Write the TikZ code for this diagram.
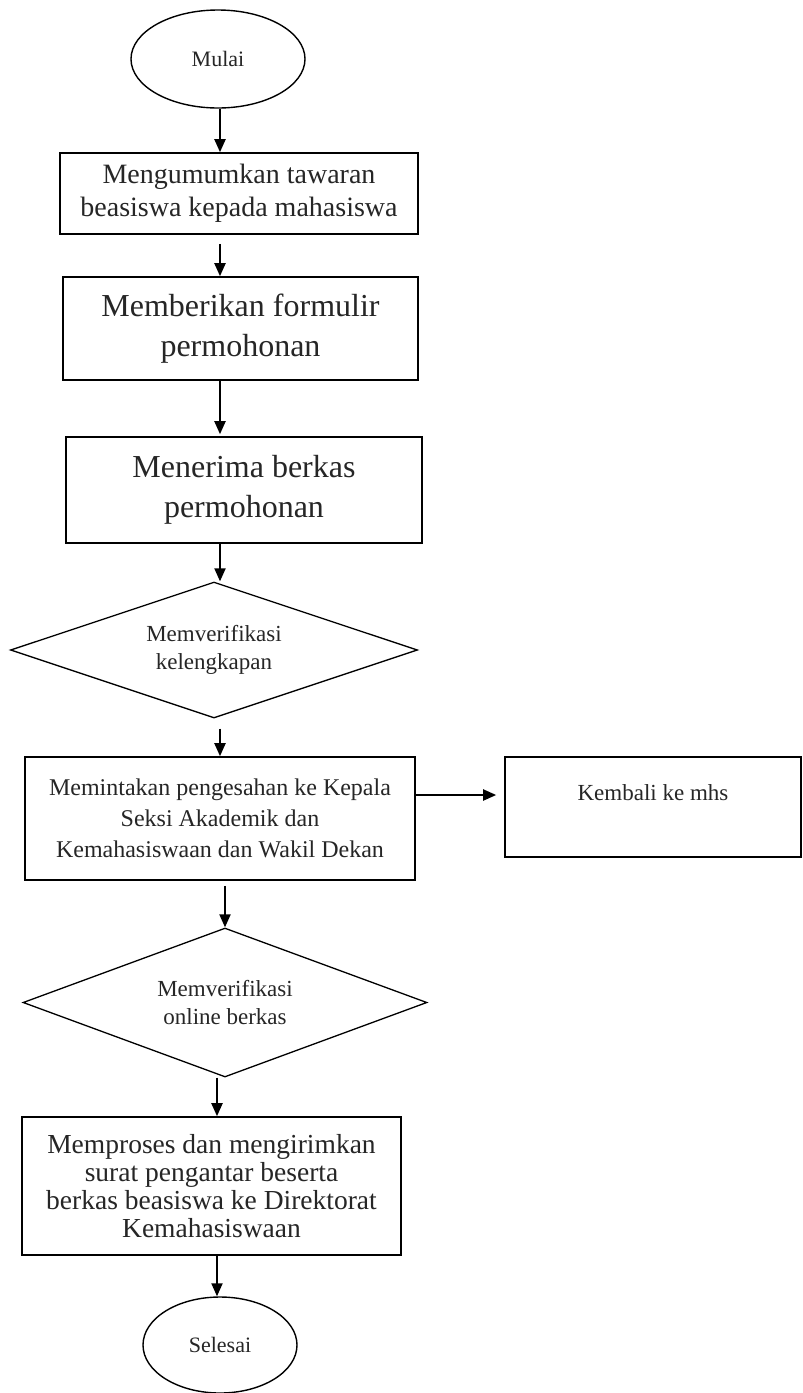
\documentclass[tikz,border=0pt]{standalone}
\usepackage{fontspec}
\setmainfont{Liberation Serif}
\usetikzlibrary{shapes.geometric,arrows.meta}
\begin{document}
\begin{tikzpicture}[x=1pt,y=-1pt,
  box/.style={draw=black, line width=1.6pt, rectangle, inner sep=0pt, align=center, text=black!85},
  dec/.style={draw=black, line width=1.3pt, diamond, inner sep=0pt, align=center, text=black!85},
  term/.style={draw=black, line width=1.4pt, ellipse, inner sep=0pt, text=black!85},
  arr/.style={draw=black, line width=2pt, -{Triangle[length=13pt,width=11pt]}},
  fA/.style={font=\fontsize{28pt}{33pt}\selectfont},
  fB/.style={font=\fontsize{32pt}{40pt}\selectfont},
  fC/.style={font=\fontsize{23pt}{28pt}\selectfont},
  fD/.style={font=\fontsize{24pt}{31pt}\selectfont},
  fE/.style={font=\fontsize{27.5pt}{28pt}\selectfont},
  fT/.style={font=\fontsize{22pt}{26pt}\selectfont},
]
\useasboundingbox (0,0) rectangle (803,1393);
\fill[white] (0,0) rectangle (803,1393);

\coordinate (sp) at (220,0);

\node[term, fT, minimum width=174pt, minimum height=98pt] (mulai) at (218,59) {Mulai};
\node[box, fA, minimum width=358pt, minimum height=81pt] (b1) at (239,193.5)
  {Mengumumkan tawaran\\beasiswa kepada mahasiswa};
\node[box, fB, minimum width=355pt, minimum height=103pt] (b2) at (240.5,328.5)
  {Memberikan formulir\\permohonan};
\node[box, fB, minimum width=356pt, minimum height=106pt] (b3) at (244,490)
  {Menerima berkas\\permohonan};
\node[dec, fC, aspect=3, minimum width=407pt, minimum height=136pt] (d1) at (214,650)
  {Memverifikasi\\kelengkapan};
\node[box, fD, minimum width=390pt, minimum height=123pt] (b4) at (220,818.5)
  {Memintakan pengesahan ke Kepala\\Seksi Akademik dan\\Kemahasiswaan dan Wakil Dekan};
\node[box, minimum width=296pt, minimum height=100pt,
  label={[fC, text=black!85, yshift=14pt]center:Kembali ke mhs}] (kb) at (653,807) {};
\node[dec, fC, aspect=2.7, minimum width=404pt, minimum height=149pt] (d2) at (225,1002.5)
  {Memverifikasi\\online berkas};
\node[box, fE, minimum width=379pt, minimum height=138pt] (b5) at (211.5,1186)
  {Memproses dan mengirimkan\\surat pengantar beserta\\berkas beasiswa ke Direktorat\\Kemahasiswaan};
\node[term, fT, minimum width=154pt, minimum height=96pt] (sel) at (220,1345) {Selesai};

\draw[arr] (sp |- mulai.south) -- (sp |- b1.north);
\draw[arr, shorten <=9pt] (sp |- b1.south) -- (sp |- b2.north);
\draw[arr, shorten >=2pt] (sp |- b2.south) -- (sp |- b3.north);
\draw[arr] (sp |- b3.south) -- (sp |- d1.north);
\draw[arr, shorten <=10pt] (sp |- d1.south) -- (sp |- b4.north);
\draw[arr, shorten <=5pt] ([xshift=5pt]sp |- b4.south) -- ([xshift=5pt]sp |- d2.north);
\draw[arr] ([xshift=-3pt]sp |- d2.south) -- ([xshift=-3pt]sp |- b5.north);
\draw[arr] ([xshift=-3pt]sp |- b5.south) -- ([xshift=-3pt]sp |- sel.north);
\draw[arr, shorten >=8pt] ([yshift=23.5pt]b4.east) -- ([yshift=23.5pt]b4.east -| kb.west);
\end{tikzpicture}
\end{document}
